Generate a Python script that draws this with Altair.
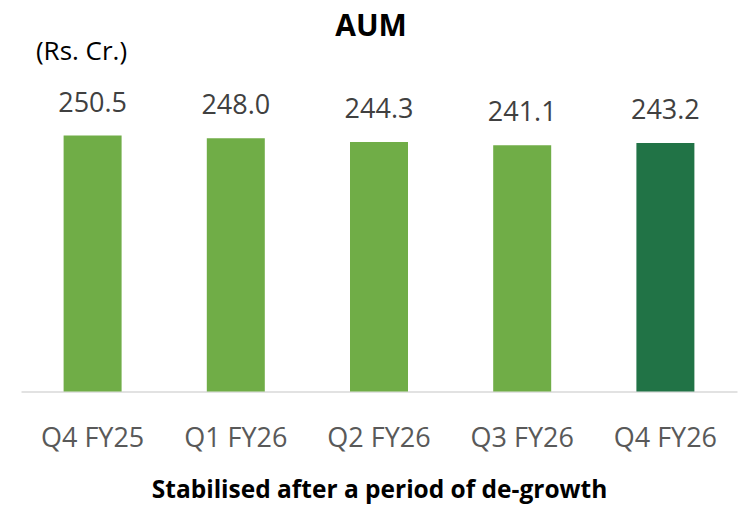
import altair as alt
import pandas as pd

quarters = ["Q4 FY25", "Q1 FY26", "Q2 FY26", "Q3 FY26", "Q4 FY26"]
aum = [250.5, 248.0, 244.3, 241.1, 243.2]
bar_colors = ["#70AD47", "#70AD47", "#70AD47", "#70AD47", "#217346"]

df = pd.DataFrame({"quarter": quarters, "aum": aum, "color": bar_colors})
df["label"] = [f"{v:.1f}" for v in aum]

FONT = "Open Sans"

x = alt.X(
    "quarter:N",
    sort=quarters,
    scale=alt.Scale(paddingInner=0.595, paddingOuter=0.2975),
    axis=alt.Axis(
        title="Stabilised after a period of de-growth",
        titleFont=FONT, titleFontSize=24.5, titleFontWeight="bold", titleColor="#000000",
        titleBaseline="alphabetic", titleY=105.5, titleAnchor="middle",
        labelFont=FONT, labelFontSize=27, labelColor="#595959",
        labelBaseline="alphabetic", labelPadding=55, labelAngle=0,
        ticks=False, tickSize=0, domainColor="#D9D9D9", domainWidth=1.5,
        grid=False,
    ),
)
y = alt.Y(
    "aum:Q",
    scale=alt.Scale(domain=[0, 300], nice=False, zero=True),
    axis=alt.Axis(
        title="(Rs. Cr.)", titleAngle=0, titleFont=FONT, titleFontSize=26,
        titleFontWeight="normal", titleColor="#000000", titleAlign="center",
        titleBaseline="middle", titleX=60, titleY=-33,
        labels=False, ticks=False, domain=False, grid=False,
    ),
)

bars = alt.Chart(df).mark_bar().encode(
    x=x, y=y, color=alt.Color("color:N", scale=None)
)
labels = alt.Chart(df).mark_text(
    font=FONT, fontSize=27, color="#404040", baseline="alphabetic", dy=-24
).encode(x=alt.X("quarter:N", sort=quarters), y="aum:Q", text="label:N")

chart = (
    alt.layer(bars, labels)
    .properties(
        width=716,
        height=306.6,
        title=alt.TitleParams(
            "AUM", font=FONT, fontSize=30, fontWeight="bold", color="#000000",
            anchor="middle", dx=-8, baseline="alphabetic", offset=-27,
        ),
        autosize=alt.AutoSizeParams(type="none"),
        padding={"left": 13, "top": 77, "right": 3, "bottom": 114},
        view=alt.ViewBackground(strokeOpacity=0, strokeWidth=0),
    )
    .configure_view(strokeWidth=0, strokeOpacity=0)
    .configure(background="white")
)

chart.save("out.html", embed_options={"renderer": "svg", "actions": False})
